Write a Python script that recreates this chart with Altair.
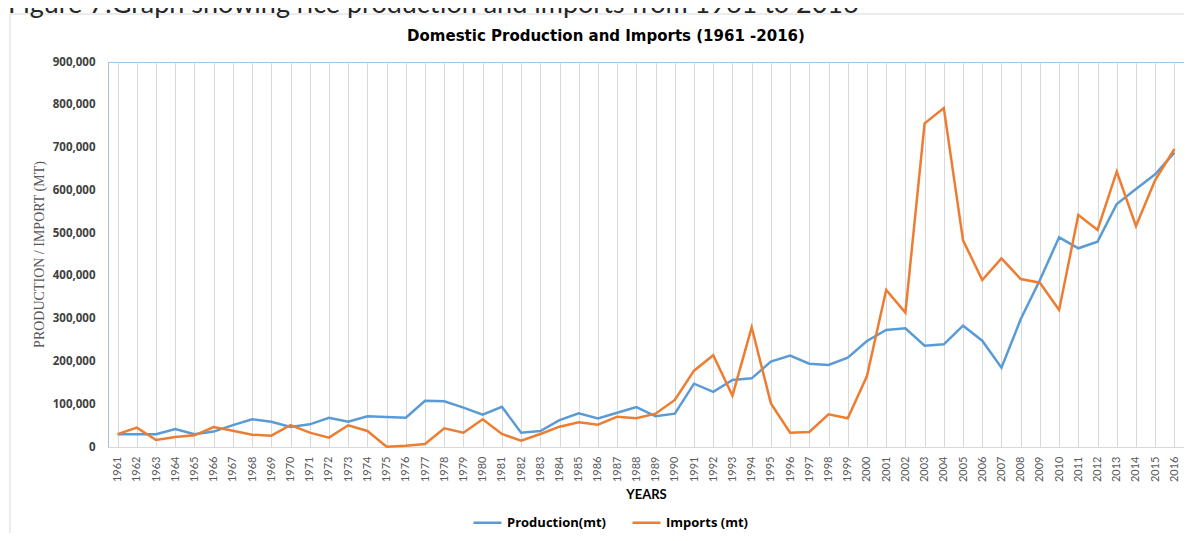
import altair as alt
import pandas as pd

caption = "Figure 7:Graph showing rice production and imports from 1961 to 2016"
chart_title = "Domestic Production and Imports (1961 -2016)"
series_names = ["Production(mt)", "Imports (mt)"]
series_colors = ["#5b9bd5", "#ed7d31"]

years = list(range(1961, 2017))

production = [
    30000, 30000, 30000, 42000, 30000, 36000, 51000, 65000, 59000, 47000,
    53000, 68500, 59000, 71700, 70000, 68500, 108000, 106800, 92000, 75500,
    94000, 33500, 37400, 63000, 78800, 67000, 80000, 93500, 71700, 78000,
    148000, 129000, 156600, 160500, 199500, 213500, 194800, 191700, 208800, 247800,
    273500, 277400, 236800, 240000, 283600, 248500, 185400, 298500, 390400, 490200,
    464500, 480000, 568000, 603000, 637500, 688000,
]

imports = [
    30000, 45200, 16400, 23400, 27300, 46800, 38200, 28800, 26400, 51400,
    33500, 21800, 50700, 37400, 500, 3000, 7000, 43700, 33500, 64700,
    30400, 14700, 30400, 47500, 57700, 52100, 70800, 67000, 77900, 110000,
    178400, 214300, 120000, 279800, 102000, 33500, 35000, 76400, 67000, 166000,
    367000, 314000, 756700, 792500, 483200, 390400, 441100, 392700, 384100, 320300,
    542400, 507300, 643600, 516600, 624200, 696600,
]

y_ticks = [0, 100000, 200000, 300000, 400000, 500000, 600000, 700000, 800000, 900000]

rows = []
for yr, p, i in zip(years, production, imports):
    rows.append({"Year": yr, "Series": series_names[0], "Value": p})
    rows.append({"Year": yr, "Series": series_names[1], "Value": i})
df = pd.DataFrame(rows)

FONT = "Lato"
BOLD = "Open Sans"

lines = alt.Chart(df).mark_line(strokeWidth=2.5).encode(
    x=alt.X(
        "Year:O",
        scale=alt.Scale(type="point", padding=0.5),
        axis=alt.Axis(
            title="YEARS", labelAngle=-90, grid=True, gridColor="#d9d9d9", gridWidth=1,
            ticks=False, domainColor="#d9d9d9", labelFont=FONT, labelFontSize=11,
            labelColor="#595959", labelPadding=9, titleFont=FONT, titleFontSize=13,
            titleFontWeight="bold", titleColor="#000000", titleY=51,
            titleBaseline="alphabetic",
        ),
    ),
    y=alt.Y(
        "Value:Q",
        scale=alt.Scale(domain=[0, 900000]),
        axis=alt.Axis(
            title="PRODUCTION / IMPORT  (MT)", values=y_ticks, format=",.0f", grid=False,
            domain=False, ticks=False, labelFont=BOLD, labelFontWeight="bold",
            labelFontSize=11.5, labelColor="#404040", labelPadding=13,
            titleFont="Liberation Serif", titleFontSize=14, titleFontWeight="normal",
            titleColor="#595959", titleX=-69, titleY=192, titleAngle=270,
            titleAlign="center", titleBaseline="middle",
        ),
    ),
    color=alt.Color(
        "Series:N",
        scale=alt.Scale(domain=series_names, range=series_colors),
        sort=series_names,
        legend=alt.Legend(
            title=None, orient="none", legendX=364, legendY=445, direction="horizontal",
            symbolType="stroke", symbolSize=784, symbolStrokeWidth=2.5,
            labelFont=BOLD, labelFontSize=13, labelFontWeight="bold",
            labelColor="#000000", columnPadding=21, labelOffset=4,
        ),
    ),
)

one = pd.DataFrame({"t": [caption], "h": [chart_title]})
caption_text = alt.Chart(one).mark_text(
    align="left", baseline="alphabetic", font=FONT, fontSize=27, color="#262626"
).encode(x=alt.value(-100), y=alt.value(-49), text="t:N")

title_text = alt.Chart(one).mark_text(
    align="center", baseline="alphabetic", font="DejaVu Sans", fontSize=15,
    fontWeight="bold", color="#000000",
).encode(x=alt.value(498), y=alt.value(-21), text="h:N")

frame_left = alt.Chart(one).mark_rule(color="#d9d9d9", strokeWidth=1).encode(
    x=alt.value(-98), y=alt.value(-48), y2=alt.value(480)
)
frame_top = alt.Chart(one).mark_rule(color="#d9d9d9", strokeWidth=1).encode(
    x=alt.value(-98), x2=alt.value(1090), y=alt.value(-48)
)

chart = alt.layer(frame_left, frame_top, caption_text, title_text, lines).properties(
    width=1076,
    height=385,
    autosize=alt.AutoSizeParams(type="none"),
    padding={"left": 100, "top": 54, "right": 0, "bottom": 86},
).configure_view(stroke="#9dc3e6", strokeWidth=1)

chart.save("out.html", embed_options={"renderer": "svg", "actions": False})
